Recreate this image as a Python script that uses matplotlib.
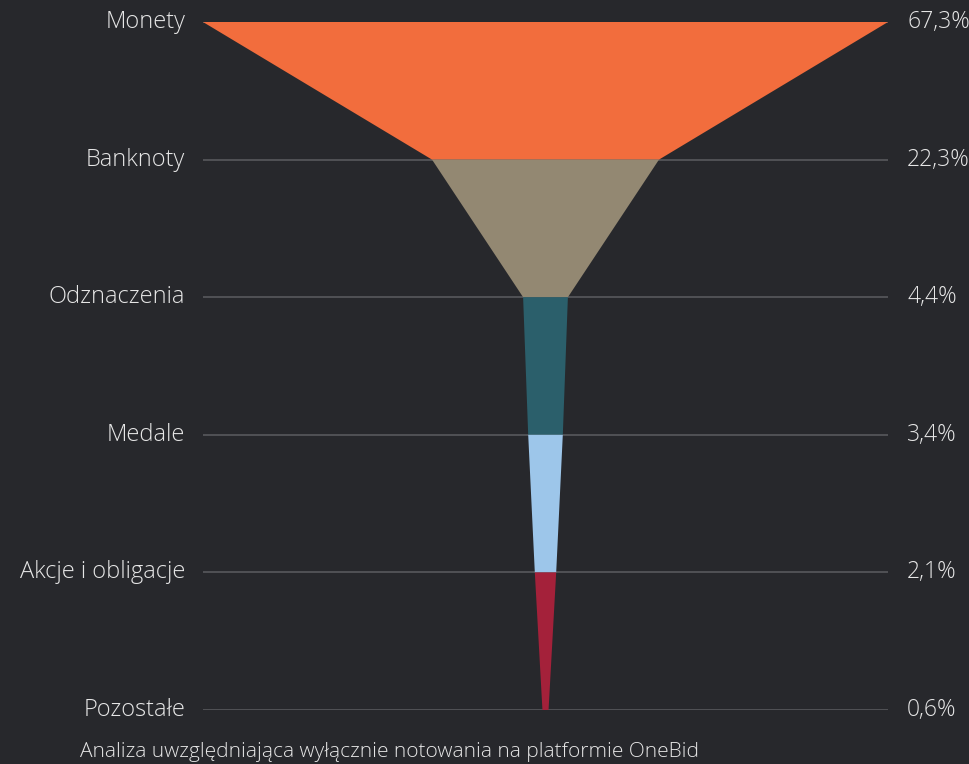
import matplotlib.pyplot as plt
from matplotlib.patches import Polygon

categories = ["Monety", "Banknoty", "Odznaczenia", "Medale", "Akcje i obligacje", "Pozostałe"]
shares = [67.3, 22.3, 4.4, 3.4, 2.1, 0.6]
value_labels = ["67,3%", "22,3%", "4,4%", "3,4%", "2,1%", "0,6%"]
colors = ["#F26D3D", "#938872", "#2B5F6B", "#9DC6EA", "#A4213A"]
footnote = "Analiza uwzględniająca wyłącznie notowania na platformie OneBid"

BG = "#27282C"
TEXT = "#E6E6E6"
plt.rcParams["font.family"] = ["Open Sans", "DejaVu Sans"]

fig = plt.figure(figsize=(9.7, 7.64), dpi=100, facecolor=BG)
ax = fig.add_axes([203 / 970, 54 / 764, 685 / 970, 688 / 764])
ax.set_facecolor(BG)
half = max(shares) / 2
ax.set_xlim(-half, half)
n = len(shares)
ax.set_ylim(n - 1, 0)
ax.axis("off")

# horizontal rule at every level
for i in range(n):
    ax.plot([-half, half], [i, i], color="#5C5D61", lw=1.1, zorder=1)

# funnel: each segment tapers from its own share to the next one
for i in range(n - 1):
    top, bot = shares[i] / 2, shares[i + 1] / 2
    poly = Polygon([(-top, i), (top, i), (bot, i + 1), (-bot, i + 1)],
                   closed=True, facecolor=colors[i], edgecolor="none", zorder=2)
    ax.add_patch(poly)

ytr = ax.get_yaxis_transform()
for i, (cat, lab) in enumerate(zip(categories, value_labels)):
    ax.text(-0.026, i, cat, transform=ytr, ha="right", va="center",
            color=TEXT, fontsize=17, fontweight="light", clip_on=False)
    ax.text(1.028, i, lab, transform=ytr, ha="left", va="center",
            color=TEXT, fontsize=16.5, fontweight="light", clip_on=False)

fig.text(80 / 970, 12 / 764, footnote, ha="left", va="center", color=TEXT,
         fontsize=15, fontweight="light")

fig.savefig("out.png", dpi=100, facecolor=BG)
